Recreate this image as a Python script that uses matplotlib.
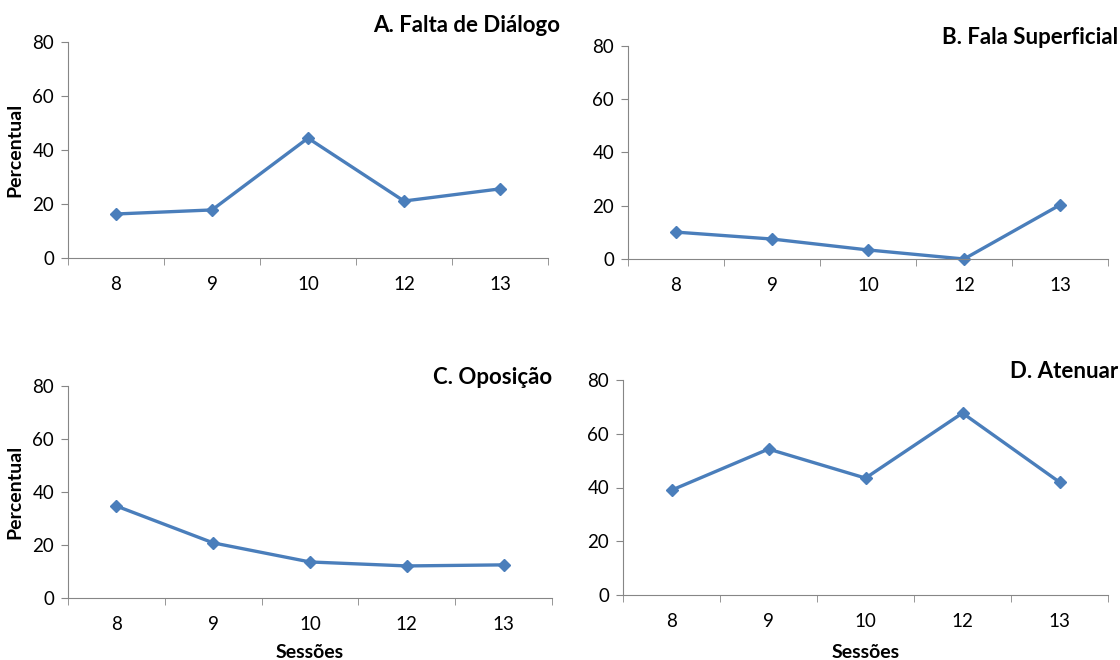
import numpy as np
import matplotlib.pyplot as plt

plt.rcParams['font.family'] = ['Lato', 'DejaVu Sans']

# Data
sessoes = ['8', '9', '10', '12', '13']
falta_dialogo = [16.3, 17.8, 44.4, 21.1, 25.6]
fala_superficial = [10.1, 7.5, 3.4, 0.0, 20.3]
oposicao = [34.7, 20.8, 13.6, 12.1, 12.5]
atenuar = [39.0, 54.3, 43.5, 67.7, 42.0]

W, H = 1120, 660
fig = plt.figure(figsize=(W/100, H/100), dpi=100)

def px_axes(left, right, top, bottom):
    return fig.add_axes([left/W, 1-bottom/H, (right-left)/W, (bottom-top)/H])

line_color = '#4A7EBB'
axis_grey = '#868686'

panels = [
    # (values, title, axes box, title pos, ylabel, xlabel)
    (falta_dialogo, 'A. Falta de Diálogo', (68, 548, 42, 258), (560, 25), True, False),
    (fala_superficial, 'B. Fala Superficial', (628, 1108, 46, 259), (1118, 37), False, False),
    (oposicao, 'C. Oposição', (68, 552, 386, 598), (552, 377), True, True),
    (atenuar, 'D. Atenuar', (623, 1108, 380, 595), (1118, 372), False, True),
]

for vals, title, box, tpos, ylab, xlab in panels:
    ax = px_axes(*box)
    x = np.arange(len(sessoes))
    ax.plot(x, vals, color=line_color, lw=2.4, marker='D', ms=6.5,
            markerfacecolor=line_color, markeredgecolor=line_color, clip_on=False)
    ax.set_xlim(-0.5, len(sessoes)-0.5)
    ax.set_ylim(0, 80)
    ax.set_yticks([0, 20, 40, 60, 80])
    ax.set_xticks(x)
    ax.set_xticklabels(sessoes)
    ax.set_xticks(np.arange(-0.5, len(sessoes), 1), minor=True)
    ax.tick_params(axis='x', which='major', length=0, pad=13, labelsize=13.5)
    ax.tick_params(axis='x', which='minor', length=5, color=axis_grey, direction='out')
    ax.tick_params(axis='y', length=5, color=axis_grey, labelsize=13.5, pad=5)
    for s in ['top', 'right']:
        ax.spines[s].set_visible(False)
    for s in ['left', 'bottom']:
        ax.spines[s].set_color(axis_grey)
    ax.patch.set_alpha(0)
    fig.text(tpos[0]/W, 1-tpos[1]/H, title, ha='right', va='center',
             fontsize=16, fontweight='bold')
    if ylab:
        fig.text(15/W, 1-((box[2]+box[3])/2)/H, 'Percentual', rotation=90,
                 ha='center', va='center', fontsize=14, fontweight='bold')
    if xlab:
        fig.text(((box[0]+box[1])/2)/W, 1-652/H, 'Sessões', ha='center',
                 va='center', fontsize=14, fontweight='bold')

fig.savefig('out.png', dpi=100)
